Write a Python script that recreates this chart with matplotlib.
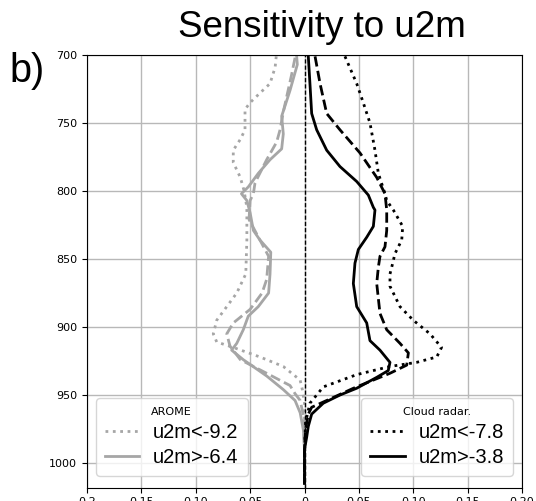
import matplotlib
matplotlib.use("Agg")
import matplotlib.pyplot as plt

# AROME profiles (pressure in hPa, sensitivity)
arome_lo_p = [701, 709, 721, 728, 735, 740, 755, 762, 770, 779, 790, 800, 812, 836,
              861, 875, 885, 895, 905, 911, 915, 922, 929, 939, 946, 956, 975, 1015]
arome_lo_v = [-0.026, -0.027, -0.0317, -0.041, -0.050, -0.0547, -0.0547, -0.059, -0.0655,
              -0.0655, -0.059, -0.0555, -0.053, -0.053, -0.054, -0.0623, -0.0715, -0.0807,
              -0.0839, -0.0807, -0.0655, -0.041, -0.0195, -0.004, -0.002, 0.0, 0.0, 0.0]

arome_hi_p = [701, 707, 726, 745, 758, 769, 777, 787, 797, 802, 807, 816, 829, 836, 845,
              861, 875, 885, 892, 902, 912, 917, 924, 936, 946, 954, 963, 976, 990, 1015]
arome_hi_v = [-0.0072, -0.0066, -0.0133, -0.021, -0.0195, -0.021, -0.0317, -0.0425, -0.0517,
              -0.058, -0.053, -0.050, -0.047, -0.041, -0.031, -0.0317, -0.033, -0.0425,
              -0.0517, -0.0563, -0.0623, -0.067, -0.0563, -0.0348, -0.0195, -0.0087, -0.004,
              -0.001, 0.0, 0.0]

arome_mid_p = [702, 715, 740, 755, 764, 777, 794, 802, 807, 821, 836, 848, 865, 875, 887,
               897, 905, 914, 924, 934, 943, 949, 954, 965, 990, 1015]
arome_mid_v = [-0.0087, -0.012, -0.019, -0.0225, -0.0256, -0.0348, -0.0455, -0.047, -0.050,
               -0.051, -0.041, -0.033, -0.0348, -0.039, -0.050, -0.0655, -0.0715, -0.0685,
               -0.059, -0.0348, -0.0133, -0.0087, -0.004, -0.001, 0.0, 0.0]

# Cloud radar profiles
radar_lo_p = [701, 721, 735, 750, 770, 787, 802, 807, 814, 826, 836, 846, 856, 861, 870,
              885, 895, 905, 915, 922, 926, 929, 935, 944, 956, 970, 990, 1015]
radar_lo_v = [0.0372, 0.048, 0.054, 0.0602, 0.0648, 0.0679, 0.074, 0.0756, 0.0817, 0.0903,
              0.0894, 0.0832, 0.0802, 0.0786, 0.0786, 0.0878, 0.100, 0.1154, 0.126, 0.1216,
              0.103, 0.0786, 0.048, 0.0173, 0.005, 0.001, 0.0, 0.0]

radar_mid_p = [701, 721, 743, 755, 772, 790, 802, 814, 829, 841, 848, 856, 868, 890, 902,
               912, 919, 928, 934, 940, 945, 954, 959, 964, 975, 990, 1015]
radar_mid_v = [0.0097, 0.0143, 0.0204, 0.0326, 0.051, 0.0664, 0.074, 0.0756, 0.0756, 0.074,
               0.0694, 0.0679, 0.0664, 0.0694, 0.0756, 0.0878, 0.0955, 0.094, 0.0786, 0.0602,
               0.045, 0.0204, 0.0066, 0.0035, 0.001, 0.0, 0.0]

radar_hi_p = [701, 721, 743, 755, 770, 782, 793, 803, 812, 814, 826, 834, 843, 853, 868,
              885, 897, 910, 917, 926, 932, 937, 945, 950, 956, 964, 973, 981, 990, 1015]
radar_hi_v = [0.0035, 0.005, 0.0066, 0.0112, 0.0204, 0.0326, 0.048, 0.0587, 0.0633, 0.0648,
              0.0633, 0.0572, 0.0495, 0.0464, 0.0449, 0.048, 0.0572, 0.0602, 0.0694, 0.0786,
              0.077, 0.0664, 0.048, 0.0326, 0.0173, 0.0066, 0.0035, 0.002, 0.0, 0.0]

arome_labels = ["u2m<-9.2", "u2m>-6.4"]
radar_labels = ["u2m<-7.8", "u2m>-3.8"]

xticks = [-0.2, -0.15, -0.10, -0.05, 0, 0.05, 0.10, 0.15, 0.20]
xticklabels = ["0.2", "0.15", "0.10", "0.05", "0", "0.05", "0.10", "0.15", "0.20"]
yticks = [700, 750, 800, 850, 900, 950, 1000]

gray = "#a6a6a6"
lw = 2.0

fig = plt.figure(figsize=(5.36, 5.01), dpi=100)
ax = fig.add_axes([0.1623, 0.0269, 0.8116, 0.8633])

ax.grid(True, color="#b8b8b8", lw=1.0)
ax.set_axisbelow(True)

l1, = ax.plot(arome_lo_v, arome_lo_p, color=gray, ls=":", lw=lw)
l2, = ax.plot(arome_hi_v, arome_hi_p, color=gray, ls="-", lw=lw)
ax.plot(arome_mid_v, arome_mid_p, color=gray, ls="--", lw=lw)

r1, = ax.plot(radar_lo_v, radar_lo_p, color="black", ls=":", lw=lw)
r2, = ax.plot(radar_hi_v, radar_hi_p, color="black", ls="-", lw=lw)
ax.plot(radar_mid_v, radar_mid_p, color="black", ls="--", lw=lw)

ax.axvline(0, color="black", ls="--", lw=1.0, dashes=(3, 1.5))

ax.set_xlim(-0.2, 0.2)
ax.set_ylim(1018, 700)
ax.set_xticks(xticks)
ax.set_xticklabels(xticklabels, fontsize=8)
ax.set_yticks(yticks)
ax.tick_params(axis="y", labelsize=8)

leg_kw = dict(prop={"family": "Liberation Sans", "size": 14.5}, title_fontsize=8,
              handlelength=1.7, handletextpad=0.7, borderpad=0.45, labelspacing=0.3)
leg1 = ax.legend([l1, l2], arome_labels, title="AROME", loc="lower left",
                 bbox_to_anchor=(0.02, 0.027), borderaxespad=0, **leg_kw)
ax.add_artist(leg1)
ax.legend([r1, r2], radar_labels, title="Cloud radar.", loc="lower right",
          bbox_to_anchor=(0.98, 0.027), borderaxespad=0, **leg_kw)

fig.text(0.601, 0.926, "Sensitivity to u2m", family="Liberation Sans", fontsize=26.5,
         ha="center", va="baseline")
fig.text(0.018, 0.837, "b)", family="Liberation Sans", fontsize=28.5, ha="left",
         va="baseline")

fig.savefig("out.png", dpi=100)
